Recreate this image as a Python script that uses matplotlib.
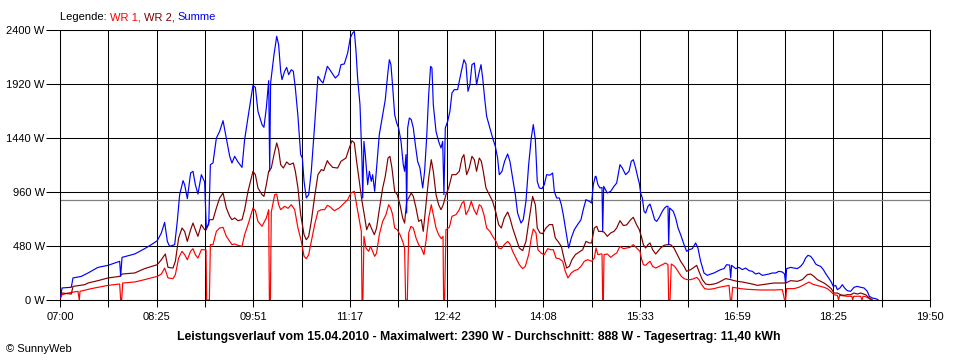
import matplotlib
matplotlib.use('Agg')
import matplotlib.pyplot as plt

# Tagesverlauf 15.04.2010, Zeit in Minuten ab 07:00, Leistung in W
t_summe = [0.6, 1.8, 10.0, 11.5, 18.9, 24.8, 33.6, 42.5, 52.8, 53.7, 54.9, 66.1, 74.9, 80.8, 86.1,
           89.7, 92.6, 95.0, 97.0, 101.5, 103.8, 105.9, 108.9, 110.3, 112.7, 115.6, 117.7, 119.8,
           122.1, 125.1, 128.0, 129.5, 131.6, 133.1, 135.4, 138.4, 141.3, 144.3, 147.2, 150.2,
           152.2, 154.6, 157.5, 161.1, 163.4, 166.4, 170.8, 172.9, 175.2, 178.8, 180.5, 182.6,
           184.7, 185.6, 186.4, 189.4, 191.8, 193.5, 195.3, 196.5, 198.8, 200.6, 202.4, 204.7,
           206.5, 208.3, 210.6, 213.0, 214.5, 216.0, 218.0, 220.1, 222.4, 225.4, 228.3, 231.3,
           232.8, 236.6, 237.8, 240.7, 243.7, 246.6, 248.7, 251.6, 254.6, 256.9, 259.0, 260.5,
           262.0, 263.4, 265.5, 267.3, 267.9, 269.0, 270.2, 272.3, 273.8, 275.5, 276.7, 278.5,
           280.2, 282.6, 285.6, 287.9, 290.0, 291.5, 292.9, 294.4, 296.2, 298.0, 299.7, 301.8,
           303.8, 305.0, 306.2, 306.8, 307.7, 309.2, 310.9, 312.7, 314.5, 316.5, 318.6, 321.0,
           322.7, 324.5, 326.3, 328.0, 329.2, 330.4, 332.8, 335.1, 337.2, 338.7, 339.8, 341.0,
           343.1, 345.1, 346.9, 349.0, 351.9, 353.4, 355.2, 357.5, 359.3, 361.1, 362.8, 364.6,
           366.7, 368.7, 370.5, 372.6, 374.1, 375.8, 377.6, 380.0, 382.9, 385.3, 387.3, 388.8,
           391.2, 393.5, 396.2, 398.2, 400.6, 403.0, 405.0, 408.0, 410.0, 412.4, 414.8, 417.1,
           418.9, 420.7, 422.4, 424.2, 426.6, 428.6, 430.7, 433.6, 436.0, 437.5, 439.5, 441.9,
           443.7, 445.4, 447.8, 450.2, 452.5, 455.2, 458.1, 461.1, 463.1, 465.5, 468.5, 470.5,
           472.0, 473.8, 474.4, 476.1, 477.9, 479.7, 480.3, 481.2, 484.4, 487.4, 490.3, 492.7,
           495.6, 497.7, 500.6, 503.6, 505.6, 507.4, 509.5, 511.5, 512.7, 513.9, 515.4, 516.9,
           518.3, 520.4, 522.2, 524.2, 526.3, 528.1, 530.1, 533.1, 535.1, 536.9, 538.1, 538.7,
           539.6, 542.8, 544.9, 547.0, 549.3, 552.3, 554.6, 556.7, 559.6, 562.6, 564.6, 567.0,
           570.0, 572.9, 575.9, 578.8, 581.8, 584.7, 587.7, 590.0, 592.7, 593.6, 594.4, 598.0,
           600.9, 603.9, 606.8, 609.8, 612.7, 615.7, 618.6, 621.6, 624.5, 627.5, 630.4, 633.4,
           636.3, 639.3, 641.3, 642.2, 643.1, 646.7, 649.6, 652.6, 655.5, 657.9, 659.9, 662.0,
           664.4, 666.7, 668.8, 670.8, 673.2, 675.6, 677.9, 680.3, 682.6, 684.4, 686.5, 688.0,
           690.3, 692.4, 694.4, 696.8, 699.8, 702.7, 705.7, 708.6, 711.6, 714.5, 716.3, 718.9,
           721.9, 724.0]
p_summe = [33, 107, 113, 196, 210, 240, 290, 308, 344, 210, 379, 409, 456, 492, 527,
           596, 690, 521, 477, 492, 699, 936, 1061, 1025, 901, 1129, 1144, 1025,
           942, 1114, 1049, 640, 670, 1203, 1218, 1440, 1499, 1594, 1440, 1277,
           1218, 1277, 1227, 1179, 1425, 1624, 1908, 1890, 1677, 1559, 1535, 1707,
           1950, 1144, 1929, 2181, 2344, 2270, 2033, 1959, 2033, 2068, 2003, 2047,
           2033, 1884, 1633, 1292, 1262, 1055, 907, 936, 1144, 1559, 1988, 1944,
           1929, 2077, 2062, 2018, 1973, 2003, 2092, 2098, 2196, 2329, 2373, 2388,
           2210, 1973, 1736, 1233, 907, 1410, 1292, 1025, 1144, 1055, 1114, 966,
           1173, 1470, 1647, 1781, 2003, 2136, 2092, 1899, 1647, 1573, 1529, 1410,
           1203, 1144, 1292, 773, 1529, 1618, 1603, 1529, 1381, 1233, 1173, 996,
           1144, 1440, 1825, 2077, 2062, 1736, 1499, 1410, 1351, 1410, 936, 1529,
           1588, 1677, 1840, 1870, 1870, 1944, 2033, 2136, 2098, 1855, 1914, 2092,
           2107, 1914, 2003, 2092, 1973, 1796, 1633, 1544, 1440, 1366, 1262, 1114,
           1144, 1233, 1298, 1233, 1084, 936, 773, 684, 714, 877, 1203, 1440,
           1559, 1425, 1055, 996, 990, 1025, 1114, 1110, 1129, 966, 907, 907,
           847, 759, 610, 462, 551, 625, 670, 714, 803, 892, 877, 862,
           1025, 1099, 1099, 1025, 996, 1000, 610, 1010, 951, 966, 1010, 1040,
           1203, 1173, 1114, 1144, 1233, 1247, 1173, 1084, 1040, 951, 907, 788,
           773, 833, 853, 788, 714, 699, 729, 788, 818, 833, 833, 492,
           818, 788, 729, 640, 581, 492, 433, 447, 456, 507, 462, 344,
           240, 219, 231, 240, 255, 270, 279, 314, 310, 196, 308, 279,
           290, 270, 284, 261, 255, 231, 240, 219, 225, 231, 240, 240,
           255, 249, 231, 142, 279, 290, 284, 279, 299, 329, 373, 397,
           388, 358, 320, 308, 299, 270, 231, 196, 160, 121, 130, 92,
           107, 136, 107, 83, 77, 113, 121, 113, 107, 77, 33, 18,
           12, 3]

t_wr2 = [0.6, 1.8, 10.0, 11.5, 21.8, 24.8, 33.6, 42.5, 52.8, 54.9, 66.1, 74.9, 86.1, 89.7, 93.2,
         95.6, 100.0, 102.1, 105.0, 108.0, 110.3, 112.7, 115.6, 117.7, 119.8, 122.1, 125.1, 128.0,
         129.5, 132.5, 135.4, 138.4, 141.3, 144.3, 147.2, 150.2, 152.2, 154.6, 157.5, 161.1,
         163.4, 166.4, 170.8, 172.9, 175.2, 178.8, 180.5, 182.6, 184.7, 187.0, 189.4, 191.8,
         193.5, 195.3, 197.7, 200.6, 203.3, 206.5, 208.3, 210.6, 213.0, 216.0, 218.0, 220.1,
         222.4, 225.4, 228.3, 231.3, 233.4, 236.6, 237.8, 241.3, 245.7, 248.7, 253.1, 256.0,
         258.4, 260.5, 262.5, 264.9, 267.3, 269.3, 271.4, 273.8, 275.5, 278.2, 280.2, 282.6,
         285.6, 287.9, 290.3, 292.0, 293.8, 296.2, 298.5, 300.9, 303.3, 305.0, 306.8, 308.6,
         310.9, 312.7, 315.1, 317.4, 319.8, 321.5, 323.9, 326.3, 328.6, 330.4, 332.8, 335.1,
         337.2, 339.2, 341.6, 344.0, 346.9, 350.5, 353.4, 355.8, 357.5, 359.9, 362.2, 364.6,
         366.7, 368.7, 371.1, 372.9, 374.6, 377.0, 380.0, 382.9, 385.9, 388.2, 390.6, 393.2,
         396.2, 398.2, 400.6, 403.6, 406.5, 409.5, 412.4, 415.4, 418.3, 420.7, 422.4, 424.8,
         427.2, 430.1, 433.1, 436.0, 438.4, 440.7, 443.7, 446.0, 448.4, 450.8, 453.1, 456.1,
         459.6, 462.6, 465.5, 468.5, 470.5, 472.9, 475.0, 476.7, 479.1, 481.5, 484.4, 487.4,
         490.3, 492.7, 495.6, 498.6, 501.5, 505.1, 507.4, 510.4, 512.7, 514.5, 516.3, 518.3,
         520.4, 522.2, 524.5, 527.2, 529.2, 531.6, 534.6, 537.5, 540.5, 543.4, 546.4, 549.3,
         552.3, 554.6, 558.2, 561.1, 563.5, 565.5, 568.5, 571.4, 574.4, 578.8, 581.8, 584.7,
         589.1, 593.6, 596.5, 599.5, 603.9, 608.3, 612.7, 617.2, 621.6, 626.0, 631.9, 637.8,
         642.2, 646.7, 652.6, 657.0, 661.4, 664.4, 667.3, 670.3, 673.2, 676.2, 679.1, 682.6,
         685.0, 688.0, 690.9, 693.9, 696.8, 699.8, 702.7, 705.7, 708.6, 713.0, 716.3, 718.9]
p_wr2 = [47, 62, 53, 121, 136, 151, 172, 196, 210, 231, 240, 279, 314, 358, 409,
         290, 284, 344, 551, 640, 610, 521, 625, 684, 625, 566, 670, 625,
         625, 714, 714, 818, 907, 951, 818, 744, 714, 729, 705, 714,
         803, 966, 1144, 1114, 996, 936, 921, 1025, 1144, 1173, 1292, 1396,
         1336, 1203, 1173, 1227, 1203, 1218, 1144, 996, 759, 581, 536, 566,
         699, 921, 1114, 1159, 1150, 1239, 1218, 1179, 1173, 1233, 1262, 1351,
         1416, 1396, 1233, 1055, 877, 759, 625, 684, 640, 581, 640, 803,
         996, 1099, 1262, 1277, 1173, 966, 936, 847, 729, 684, 877, 907,
         951, 921, 818, 699, 714, 610, 847, 1084, 1247, 1144, 936, 847,
         803, 847, 936, 996, 1114, 1114, 1144, 1262, 1292, 1114, 1173, 1277,
         1247, 1144, 1262, 1233, 1144, 996, 936, 877, 773, 670, 640, 729,
         782, 729, 640, 551, 462, 439, 521, 729, 921, 847, 640, 596,
         590, 640, 670, 670, 551, 521, 477, 373, 284, 299, 358, 403,
         427, 447, 521, 507, 507, 640, 655, 610, 610, 604, 566, 596,
         610, 640, 705, 662, 667, 714, 735, 667, 625, 566, 492, 462,
         492, 507, 447, 409, 433, 462, 486, 492, 492, 462, 403, 344,
         299, 255, 270, 290, 308, 255, 181, 142, 136, 142, 151, 166,
         190, 181, 172, 166, 160, 151, 142, 130, 136, 142, 151, 151,
         151, 172, 166, 181, 225, 231, 210, 181, 166, 151, 130, 101,
         62, 62, 47, 41, 47, 47, 62, 53, 62, 47, 18, 3]

t_wr1 = [0.6, 1.8, 7.1, 15.9, 17.1, 17.7, 27.7, 42.5, 52.8, 53.7, 54.6, 55.5, 66.1, 74.9, 86.1,
         89.7, 92.6, 95.6, 100.0, 102.1, 105.0, 108.0, 110.3, 112.7, 115.6, 117.7, 119.8, 122.1,
         125.1, 128.0, 129.2, 129.8, 132.2, 133.1, 135.4, 138.4, 141.3, 144.3, 147.2, 150.2,
         152.2, 154.6, 157.5, 161.1, 163.4, 166.4, 170.8, 172.9, 175.2, 178.8, 182.6, 184.7,
         185.3, 186.2, 187.0, 190.0, 191.8, 193.5, 195.3, 198.8, 201.8, 204.7, 207.7, 210.6,
         213.6, 216.0, 218.0, 220.1, 223.0, 225.4, 228.3, 231.3, 234.2, 236.6, 238.4, 242.8,
         247.2, 251.6, 254.6, 257.5, 260.5, 262.5, 264.9, 266.7, 267.3, 268.1, 269.0, 270.8,
         273.2, 274.9, 276.7, 278.5, 280.2, 282.6, 285.6, 288.5, 290.9, 292.6, 294.4, 296.2,
         298.5, 300.9, 303.3, 305.0, 305.9, 307.4, 308.6, 310.6, 312.7, 315.1, 317.4, 319.8,
         322.1, 323.9, 326.3, 328.6, 330.4, 332.8, 335.1, 337.5, 339.0, 339.5, 340.4, 341.6,
         344.6, 346.9, 350.5, 353.4, 355.8, 357.5, 359.3, 361.7, 364.0, 366.4, 368.7, 371.1,
         372.9, 375.2, 377.6, 380.5, 382.9, 385.9, 388.2, 390.6, 393.2, 396.2, 398.2, 400.6,
         403.6, 406.5, 409.5, 411.8, 414.8, 417.1, 418.9, 421.3, 423.0, 425.7, 428.6, 431.6,
         434.5, 436.6, 439.0, 441.9, 444.9, 447.2, 449.6, 452.5, 455.2, 458.1, 461.1, 464.0,
         467.0, 470.5, 472.9, 474.4, 476.1, 478.5, 479.7, 480.3, 480.9, 481.5, 484.4, 487.4,
         490.3, 492.7, 495.6, 498.6, 501.5, 504.5, 507.4, 510.4, 513.3, 514.5, 516.3, 518.3,
         520.4, 522.2, 524.5, 527.2, 530.1, 533.1, 536.0, 538.1, 538.7, 539.9, 541.0, 544.0,
         547.0, 549.9, 552.3, 555.2, 558.2, 561.1, 563.5, 565.5, 567.6, 570.5, 574.4, 578.8,
         583.2, 587.7, 592.1, 593.3, 594.4, 595.3, 602.4, 608.3, 614.2, 620.1, 631.9, 639.3,
         641.3, 642.2, 643.1, 649.6, 654.0, 658.5, 662.9, 665.8, 669.7, 673.2, 676.2, 679.1,
         682.0, 685.0, 688.0, 689.1, 690.0, 696.8, 700.9, 701.5, 702.4, 708.6, 709.8, 710.7,
         713.0, 716.3, 717.5]
p_wr1 = [18, 47, 62, 77, 0, 77, 101, 130, 142, 0, 0, 151, 160, 181, 210,
         231, 284, 196, 190, 225, 373, 433, 403, 358, 433, 456, 403, 373,
         447, 447, 447, 0, 0, 492, 492, 610, 640, 646, 566, 521,
         492, 498, 486, 477, 581, 670, 818, 794, 699, 655, 729, 803,
         0, 0, 781, 936, 942, 847, 803, 833, 815, 847, 803, 640,
         521, 388, 367, 403, 551, 670, 788, 803, 803, 841, 833, 794,
         818, 862, 892, 951, 966, 847, 714, 610, 0, 0, 566, 462,
         433, 477, 433, 388, 418, 581, 699, 759, 847, 818, 759, 640,
         625, 581, 521, 462, 0, 0, 596, 655, 640, 551, 492, 462,
         403, 521, 729, 847, 759, 640, 581, 545, 566, 0, 0, 625,
         646, 744, 759, 803, 862, 877, 759, 803, 877, 803, 759, 847,
         833, 759, 640, 610, 566, 521, 462, 456, 492, 521, 498, 433,
         373, 314, 279, 299, 403, 551, 631, 596, 447, 418, 403, 456,
         447, 447, 373, 367, 344, 255, 196, 240, 261, 270, 299, 344,
         358, 344, 373, 462, 403, 409, 409, 0, 0, 403, 409, 379,
         403, 418, 477, 456, 462, 468, 492, 462, 433, 373, 314, 308,
         329, 344, 299, 284, 299, 314, 329, 314, 0, 0, 320, 299,
         255, 210, 190, 181, 181, 190, 201, 181, 142, 101, 95, 101,
         113, 121, 130, 0, 0, 113, 101, 95, 92, 89, 89, 92,
         0, 0, 101, 101, 113, 136, 160, 142, 130, 121, 113, 101,
         77, 47, 41, 0, 41, 33, 33, 0, 33, 33, 0, 33,
         30, 12, 0]

zeit_labels = ['07:00', '08:25', '09:51', '11:17', '12:42', '14:08', '15:33', '16:59', '18:25', '19:50']
leistung_ticks = [0, 480, 960, 1440, 1920, 2400]
durchschnitt = 888
titel = 'Leistungsverlauf vom 15.04.2010 - Maximalwert: 2390 W - Durchschnitt: 888 W - Tagesertrag: 11,40 kWh'

plt.rcParams['font.family'] = ['Liberation Sans', 'DejaVu Sans']

fig = plt.figure(figsize=(9.6, 3.6), dpi=100)
ax = fig.add_axes([60 / 960, 60 / 360, 870 / 960, 270 / 360])

total = 770.0
step = total / 18
xpos = [i * step for i in range(19)]
xlab = []
for i in range(19):
    xlab.append(zeit_labels[i // 2] if i % 2 == 0 else '')

ax.set_xlim(0, total)
ax.set_ylim(0, 2400)
ax.set_xticks(xpos, xlab)
ax.set_yticks(leistung_ticks, ['%d W' % v for v in leistung_ticks])
ax.tick_params(axis='x', length=5, width=0.75, pad=4, labelsize=8, colors='black')
ax.tick_params(axis='y', length=10, width=0.75, pad=1, labelsize=8, colors='black')
ax.grid(True, color='black', linewidth=0.75)
ax.set_axisbelow(True)
for s in ax.spines.values():
    s.set_linewidth(0.75)
    s.set_color('black')

ax.axhline(durchschnitt, color='#808080', linewidth=0.9, zorder=1.5)

ax.plot(t_wr1, p_wr1, color='#ff0000', linewidth=0.85, zorder=3)
ax.plot(t_wr2, p_wr2, color='#800000', linewidth=0.85, zorder=3)
ax.plot(t_summe, p_summe, color='#0000ff', linewidth=0.85, zorder=3)

# Legende oben
t0 = fig.text(60 / 960, 1 - 17 / 360, 'Legende: ', fontsize=8, va='center', color='black')
t1 = ax.annotate('WR 1, ', xycoords=t0, xy=(1, 0), va='bottom', fontsize=8, color='#ff0000', annotation_clip=False)
t2 = ax.annotate('WR 2, ', xycoords=t1, xy=(1, 0), va='bottom', fontsize=8, color='#800000', annotation_clip=False)
ax.annotate('Summe', xycoords=t2, xy=(1, 0), va='bottom', fontsize=8, color='#0000ff', annotation_clip=False)

fig.text(479 / 960, 1 - 337 / 360, titel, fontsize=8.8, fontweight='bold', ha='center', va='center')
fig.text(6 / 960, 1 - 349 / 360, '\u00a9 SunnyWeb', fontsize=8, va='center')

fig.savefig('out.png', dpi=100)
